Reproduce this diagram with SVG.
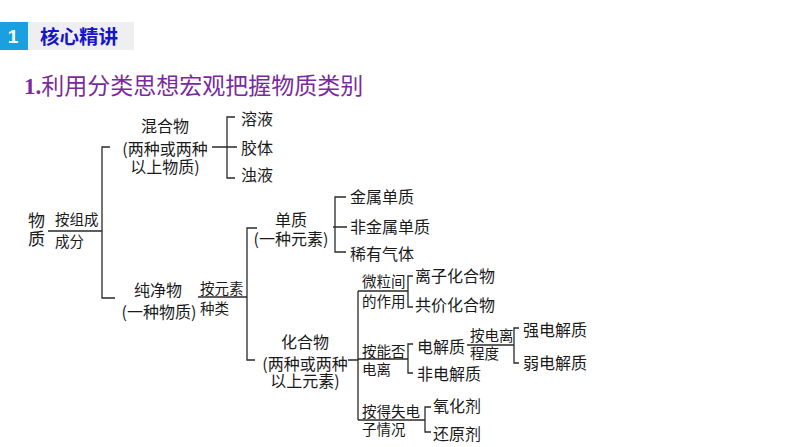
<svg xmlns="http://www.w3.org/2000/svg" width="794" height="447" viewBox="0 0 794 447">
<style>
.t{font-family:"Noto Sans CJK SC","Noto Sans",sans-serif;font-size:16px;fill:#1a1a1a}
.s{font-size:14.5px}
.m{text-anchor:middle}
.c{fill:none;stroke:#2a2a2a;stroke-width:1.3}
</style>
<rect width="794" height="447" fill="#ffffff"/>
<g id="header">
<rect x="0" y="22" width="28" height="28" fill="#1aa0e0"/>
<rect x="28" y="22" width="106" height="28" fill="#efeff1"/>
<text x="13" y="43" text-anchor="middle" font-family="Liberation Sans,sans-serif" font-weight="bold" font-size="19" fill="#ffffff">1</text>
<text x="40" y="43.5" font-family="Noto Sans CJK SC,sans-serif" font-weight="bold" font-size="19.5" fill="#1616c8">核心精讲</text>
</g>
<g id="title">
<text x="24" y="94" font-size="23" fill="#7a2a9e" font-family="Noto Sans CJK SC,sans-serif"><tspan font-family="Liberation Serif,serif" font-weight="bold">1.</tspan>利用分类思想宏观把握物质类别</text>
</g>
<g id="connectors" class="c">
<path d="M48 231H102M110 147H102V298H115"/>
<path d="M212 147H237M235 117H227V178H235"/>
<path d="M198 297H247M257 228H247V360H255"/>
<path d="M333 227H347M346 197H335V252H346"/>
<path d="M348 360H358M358 291V420"/>
<path d="M358 291H408M413 276H408V307H413"/>
<path d="M358 359H408M413 344H408V373H413"/>
<path d="M467 345H514M519 328H514V363H519"/>
<path d="M358 420H425M431 407H425V432H431"/>
</g>
<g id="wuzhi" class="t">
<text x="28" y="227" style="font-size:17px">物</text>
<text x="28" y="244.5" style="font-size:17px">质</text>
<text x="55" y="225" class="t s">按组成</text>
<text x="55" y="246.5" class="t s">成分</text>
</g>
<g id="hunhewu" class="t m">
<text x="165" y="131.5">混合物</text>
<text x="165" y="154.5">(两种或两种</text>
<text x="165" y="172.5">以上物质)</text>
</g>
<g id="rongye"><text class="t" x="241" y="124.5">溶液</text></g>
<g id="jiaoti"><text class="t" x="241" y="154">胶体</text></g>
<g id="zhuoye"><text class="t" x="241" y="181">浊液</text></g>
<g id="chunjingwu" class="t">
<text x="158" y="296" class="t m">纯净物</text>
<text x="159" y="317.5" class="t m">(一种物质)</text>
<text x="200" y="294" class="t s">按元素</text>
<text x="200" y="313.5" class="t s">种类</text>
</g>
<g id="danzhi" class="t m">
<text x="291" y="226">单质</text>
<text x="291" y="244.5">(一种元素)</text>
</g>
<g id="jinshu"><text class="t" x="350" y="203">金属单质</text></g>
<g id="feijinshu"><text class="t" x="350" y="233">非金属单质</text></g>
<g id="xiyou"><text class="t" x="350" y="259.5">稀有气体</text></g>
<g id="huahewu" class="t m">
<text x="305" y="347.5">化合物</text>
<text x="305" y="369.5">(两种或两种</text>
<text x="305" y="387">以上元素)</text>
</g>
<g id="lbl-weili" class="t s">
<text x="362" y="287">微粒间</text>
<text x="362" y="306.5">的作用</text>
</g>
<g id="lizi"><text class="t" x="415" y="282">离子化合物</text></g>
<g id="gongjia"><text class="t" x="415" y="310.5">共价化合物</text></g>
<g id="lbl-dianli" class="t s">
<text x="362" y="357">按能否</text>
<text x="362" y="375">电离</text>
</g>
<g id="dianjiezhi"><text class="t" x="417" y="352.5">电解质</text></g>
<g id="feidianjiezhi"><text class="t" x="417" y="379.5">非电解质</text></g>
<g id="lbl-chengdu" class="t s">
<text x="470" y="341">按电离</text>
<text x="470" y="359">程度</text>
</g>
<g id="qiang"><text class="t" x="523" y="336">强电解质</text></g>
<g id="ruo"><text class="t" x="523" y="368.5">弱电解质</text></g>
<g id="lbl-dese" class="t s">
<text x="362" y="417">按得失电</text>
<text x="362" y="435">子情况</text>
</g>
<g id="yanghua"><text class="t" x="433" y="411.5">氧化剂</text></g>
<g id="huanyuan"><text class="t" x="433" y="439.5">还原剂</text></g>
</svg>
